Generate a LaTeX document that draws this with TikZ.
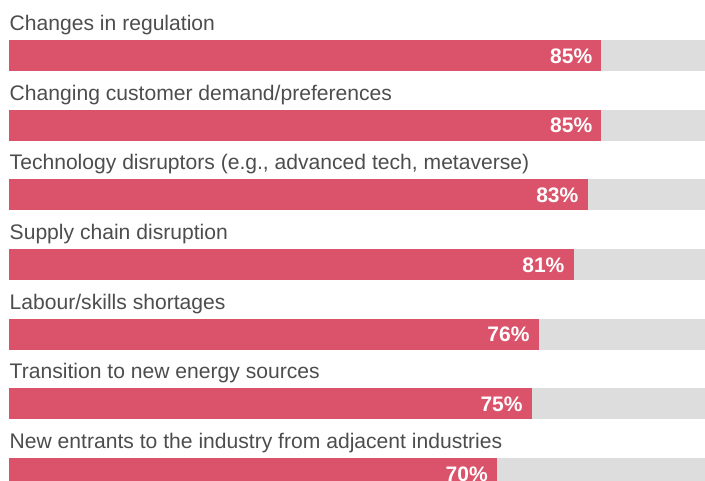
\documentclass[tikz,border=0pt]{standalone}
\usepackage{fontspec}
\setmainfont{Liberation Sans}
\definecolor{barred}{HTML}{DA536A}
\definecolor{bargray}{HTML}{DDDDDD}
\definecolor{labelgray}{HTML}{4D4D4D}
\tikzset{
  label text/.style={anchor=base west, inner sep=0pt, text=labelgray, font=\fontsize{21.1}{24}\selectfont},
  pct text/.style={anchor=base east, inner sep=0pt, text=white, font=\fontsize{21}{24}\selectfont\bfseries},
  redbar/.style={fill=barred},
  graybar/.style={fill=bargray}
}
\begin{document}
\begin{tikzpicture}[x=1pt,y=-1pt]
\useasboundingbox (0,0) rectangle (705,481);
\clip (0,0) rectangle (705,481);
\foreach \i/\p/\t in {
  0/85/{Changes in regulation},
  1/85/{Changing customer demand/preferences},
  2/83/{Technology disruptors (e.g., advanced tech, metaverse)},
  3/81/{Supply chain disruption},
  4/76/{Labour/skills shortages},
  5/75/{Transition to new energy sources},
  6/70/{New entrants to the industry from adjacent industries}}{
  \pgfmathsetmacro{\top}{40+\i*69.67}
  \pgfmathsetmacro{\xend}{9+6.97*\p}
  \fill[graybar] (9,\top) rectangle (706,\top+31);
  \fill[redbar] (9,\top) rectangle (\xend,\top+31);
  \node[label text] (lab\i) at (9.5,\top-9.5) {\t};
  \node[pct text] (pct\i) at (\xend-9,\top+23.2) {\p\%};
}
\end{tikzpicture}
\end{document}
